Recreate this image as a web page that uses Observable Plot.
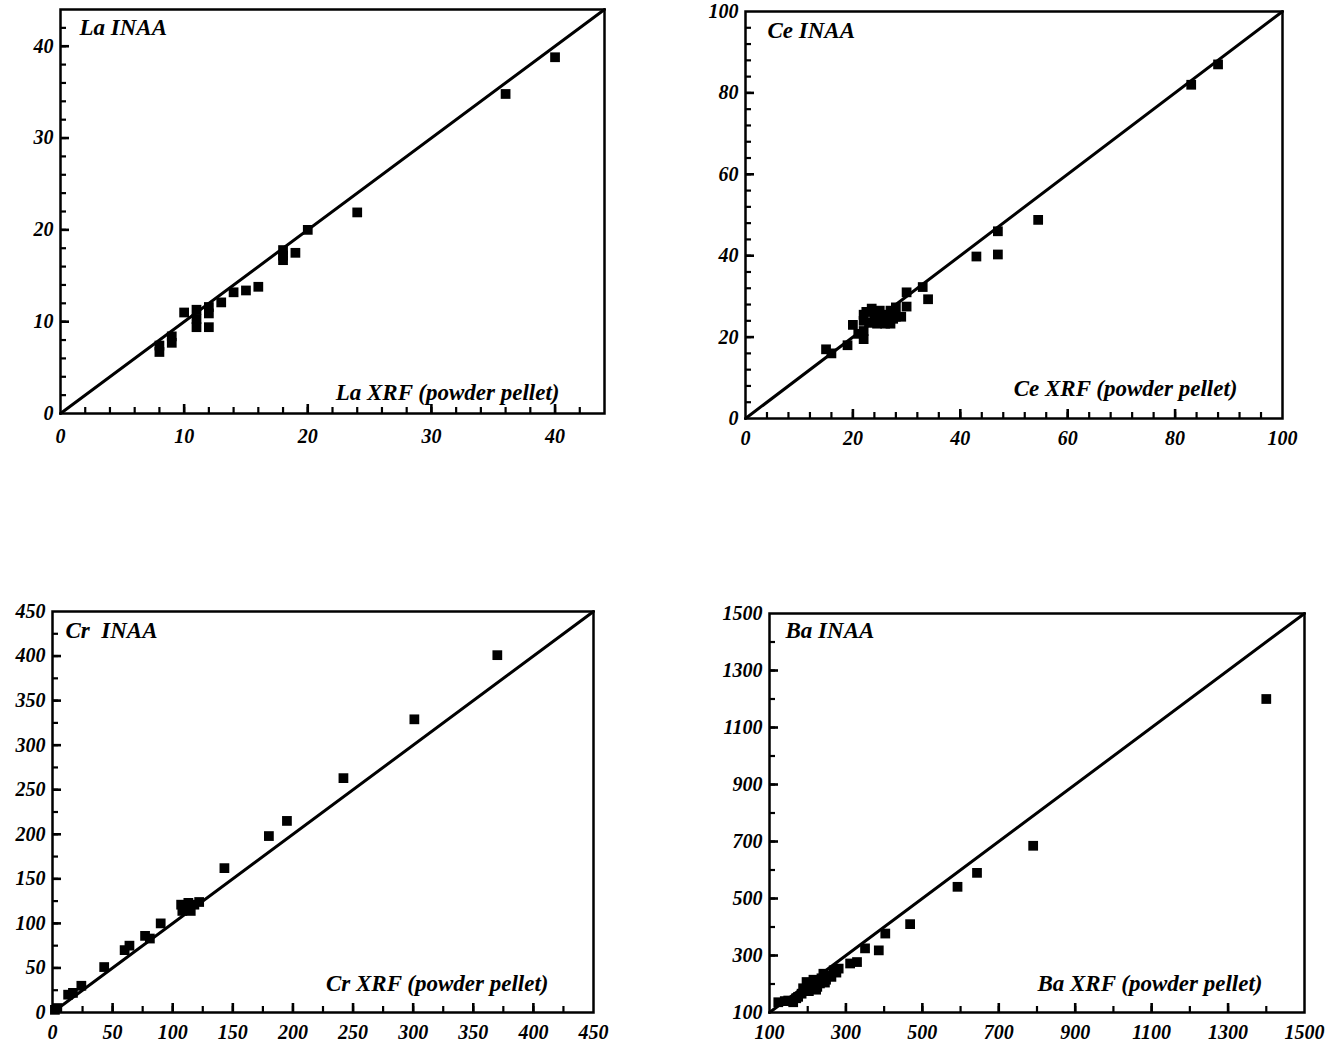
<!DOCTYPE html>
<html>
<head>
<meta charset="utf-8">
<script src="https://cdn.jsdelivr.net/npm/d3@7"></script>
<script src="https://cdn.jsdelivr.net/npm/@observablehq/plot@0.6"></script>
<style>
  html, body { margin: 0; padding: 0; background: #fff; }
  #chart { position: relative; width: 1341px; height: 1046px; background: #fff; overflow: hidden; }
  .panel { position: absolute; }
  .panel svg { overflow: visible; }
</style>
</head>
<body>
<div id="chart"></div>
<script>
// ---------- data ----------
const laX = [8, 8, 9, 9, 10, 11, 11, 11, 12, 12, 12, 13, 14, 15, 16, 18, 18, 18, 19, 20, 24, 36, 40];
const laY = [7.4, 6.7, 8.4, 7.7, 11.0, 11.3, 10.3, 9.4, 11.6, 10.9, 9.4, 12.1, 13.2, 13.4, 13.8, 17.8, 17.2, 16.7, 17.5, 20.0, 21.9, 34.8, 38.8];

const ceX = [15, 16, 19, 20, 21, 22, 22, 22, 22, 22.5, 23, 23.5, 24, 24, 24.5, 25, 25.5, 26, 26, 26.5, 27, 27, 27.5, 28, 28, 29, 30, 30, 33, 34, 43, 47, 47, 54.5, 83, 88];
const ceY = [17, 16, 18, 23, 20.8, 19.5, 21.5, 24, 25.5, 26.2, 23.5, 27, 24, 25.5, 23.3, 26.5, 24.5, 23.3, 25.5, 24, 23.3, 26.5, 24.5, 27.3, 25, 25, 31, 27.5, 32.3, 29.3, 39.8, 46, 40.3, 48.8, 82, 87];

const crX = [2, 4, 13, 17, 24, 43, 60, 64, 77, 81, 90, 107, 108, 111, 113, 115, 118, 122, 143, 180, 195, 242, 301, 370];
const crY = [3, 5, 20, 22, 30, 51, 70, 75, 86, 83, 100, 121, 114, 117, 123, 114, 121, 124, 162, 198, 215, 263, 329, 401];

const baX = [123, 140, 149, 162, 170, 175, 184, 188, 190, 197, 200, 203, 207, 211, 215, 219, 222, 225, 232, 236, 241, 245, 248, 255, 262, 268, 275, 281, 311, 329, 350, 386, 403, 468, 592, 643, 790, 1400];
const baY = [136, 140, 142, 136, 150, 155, 166, 185, 180, 207, 190, 175, 200, 195, 215, 212, 180, 190, 202, 220, 236, 205, 215, 230, 225, 248, 240, 254, 272, 277, 325, 318, 377, 410, 541, 590, 685, 1200];

// axis tick labels
const laTicks = [0, 10, 20, 30, 40];
const ceTicks = [0, 20, 40, 60, 80, 100];
const crTicks = [0, 50, 100, 150, 200, 250, 300, 350, 400, 450];
const baTicks = [100, 300, 500, 700, 900, 1100, 1300, 1500];

// axis titles
const laTitles = ["La INAA", "La XRF (powder pellet)"];
const ceTitles = ["Ce INAA", "Ce XRF (powder pellet)"];
const crTitles = ["Cr\u00A0\u00A0INAA", "Cr XRF (powder pellet)"];
const baTitles = ["Ba INAA", "Ba XRF (powder pellet)"];

// ---------- panels ----------
const FONT = "'Liberation Serif', 'DejaVu Serif', serif";

function panel(cfg) {
  const pts = cfg.xs.map((x, i) => ({x, y: cfg.ys[i]}));
  const d = cfg.domain;
  const diag = [{x: d[0], y: d[0]}, {x: d[1], y: d[1]}];
  const minor = d3.range(d[0], d[1] + 1e-9, cfg.minorStep).filter(v => v > d[0] && v < d[1]);
  const major = cfg.ticks.filter(v => v > d[0] && v < d[1]);
  const iw = cfg.width - cfg.ml - cfg.mr;
  const ih = cfg.height - cfg.mt - cfg.mb;
  const svg = Plot.plot({
    width: cfg.width,
    height: cfg.height,
    marginLeft: cfg.ml, marginRight: cfg.mr, marginTop: cfg.mt, marginBottom: cfg.mb,
    x: {domain: d},
    y: {domain: d},
    style: {fontFamily: FONT, fontWeight: "bold", fontStyle: "italic", fontSize: "20px", background: "transparent", color: "#000"},
    marks: [
      Plot.line(diag, {x: "x", y: "y", stroke: "#000", strokeWidth: 3}),
      Plot.dot(pts, {x: "x", y: "y", symbol: "square", r: 5.5, fill: "#000", stroke: "none"}),
      // inward minor ticks
      Plot.tickX(minor, {x: v => v, insetTop: ih - 6, stroke: "#000", strokeWidth: 2.2}),
      Plot.tickY(minor, {y: v => v, insetRight: iw - 6, stroke: "#000", strokeWidth: 2.2}),
      // inward major ticks
      Plot.tickX(major, {x: v => v, insetTop: ih - 9, stroke: "#000", strokeWidth: 2.6}),
      Plot.tickY(major, {y: v => v, insetRight: iw - 9, stroke: "#000", strokeWidth: 2.6}),
      // labels
      Plot.axisX({ticks: cfg.ticks, tickSize: 0, tickPadding: cfg.xpad, tickFormat: v => String(v), label: null, fontSize: 20}),
      Plot.axisY({ticks: cfg.ticks, tickSize: 0, tickPadding: 7, tickFormat: v => String(v), label: null, fontSize: 20}),
      Plot.frame({stroke: "#000", strokeWidth: 2.5}),
      Plot.text([cfg.titles[0]], {frameAnchor: "top-left", dx: cfg.tdx, dy: cfg.tdy, textAnchor: "start", lineAnchor: "middle", fontSize: 23, fill: "#000"}),
      Plot.text([cfg.titles[1]], {frameAnchor: "bottom-right", dx: cfg.bdx, dy: cfg.bdy, textAnchor: "end", lineAnchor: "middle", fontSize: 23, fill: "#000"})
    ]
  });
  const div = document.createElement("div");
  div.className = "panel";
  div.style.left = cfg.left + "px";
  div.style.top = cfg.top + "px";
  div.appendChild(svg);
  document.getElementById("chart").appendChild(div);
}

panel({xs: laX, ys: laY, domain: [0, 44], ticks: laTicks, minorStep: 2, titles: laTitles,
  left: 0, top: 0, width: 640, height: 450, ml: 60, mr: 36, mt: 9, mb: 37, xpad: 15,
  tdx: 19, tdy: 18, bdx: -45, bdy: -21});
panel({xs: ceX, ys: ceY, domain: [0, 100], ticks: ceTicks, minorStep: 4, titles: ceTitles,
  left: 680, top: 0, width: 661, height: 450, ml: 65, mr: 59, mt: 11, mb: 32, xpad: 12,
  tdx: 22, tdy: 19, bdx: -45, bdy: -30});
panel({xs: crX, ys: crY, domain: [0, 450], ticks: crTicks, minorStep: 25, titles: crTitles,
  left: 0, top: 580, width: 640, height: 466, ml: 52, mr: 47, mt: 31, mb: 34, xpad: 12,
  tdx: 13, tdy: 19, bdx: -45, bdy: -29});
panel({xs: baX, ys: baY, domain: [100, 1500], ticks: baTicks, minorStep: 100, titles: baTitles,
  left: 680, top: 580, width: 661, height: 466, ml: 89, mr: 37, mt: 33, mb: 34, xpad: 12,
  tdx: 16, tdy: 17, bdx: -42, bdy: -29});
</script>
</body>
</html>
